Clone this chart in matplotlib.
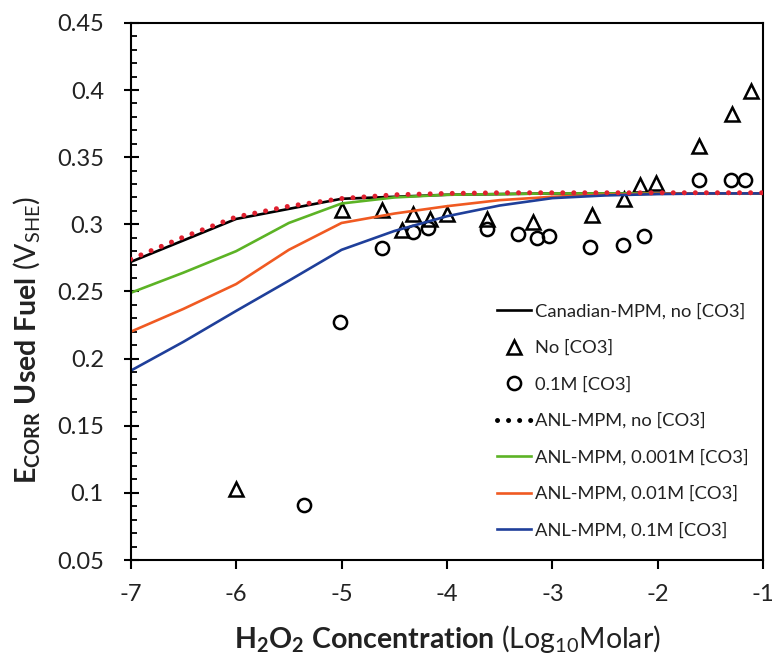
import numpy as np
import matplotlib
matplotlib.use("Agg")
import matplotlib.pyplot as plt
from matplotlib.ticker import MultipleLocator, FuncFormatter

plt.rcParams['font.family'] = ['Lato', 'DejaVu Sans']
plt.rcParams['mathtext.fontset'] = 'custom'
plt.rcParams['mathtext.rm'] = 'Lato'
plt.rcParams['mathtext.it'] = 'Lato:italic'
plt.rcParams['mathtext.bf'] = 'Lato:bold'

# model curves, log10 [H2O2] vs Ecorr (V SHE)
canadian_x = [-7, -6, -5, -4, -3, -2, -1]
canadian_y = [0.272, 0.304, 0.319, 0.322, 0.323, 0.323, 0.323]

anl_x = [-7, -6.5, -6, -5.5, -5, -4.5, -4, -3.5, -3, -2.5, -2, -1.5, -1]
anl_none = [0.274, 0.2905, 0.3055, 0.3135, 0.3192, 0.322, 0.323, 0.3235, 0.3235, 0.3235, 0.3235, 0.3235, 0.3235]
anl_0001 = [0.249, 0.264, 0.280, 0.301, 0.3155, 0.320, 0.322, 0.3225, 0.323, 0.323, 0.323, 0.323, 0.323]
anl_001 = [0.220, 0.237, 0.2555, 0.281, 0.301, 0.308, 0.3135, 0.318, 0.3205, 0.322, 0.3228, 0.323, 0.323]
anl_01 = [0.191, 0.2125, 0.2355, 0.258, 0.281, 0.295, 0.306, 0.314, 0.3195, 0.3215, 0.3225, 0.323, 0.323]

# measurements
tri_x = [-6.0, -5.0, -4.62, -4.43, -4.325, -4.16, -4.0, -3.62, -3.18, -2.625, -2.32, -2.17, -2.02, -1.61, -1.30, -1.12]
tri_y = [0.103, 0.311, 0.311, 0.296, 0.308, 0.304, 0.308, 0.304, 0.302, 0.307, 0.319, 0.329, 0.331, 0.358, 0.382, 0.399]
circ_x = [-5.36, -5.01, -4.62, -4.32, -4.18, -3.62, -3.33, -3.15, -3.03, -2.64, -2.33, -2.13, -1.61, -1.31, -1.17]
circ_y = [0.091, 0.2275, 0.282, 0.2945, 0.297, 0.2963, 0.2925, 0.2896, 0.2913, 0.2833, 0.2846, 0.2913, 0.333, 0.333, 0.333]

fig = plt.figure(figsize=(7.78, 6.54), dpi=100)
ax = fig.add_axes([0.168, 0.1437, 0.813, 0.8213])

lw = 1.9
ax.plot(canadian_x, canadian_y, color='black', lw=lw, label='Canadian-MPM, no [CO3]')
ax.plot(tri_x, tri_y, ls='none', marker='^', ms=10, mfc='none', mec='black', mew=1.8,
        label='No [CO3]')
ax.plot(circ_x, circ_y, ls='none', marker='o', ms=9.5, mfc='none', mec='black', mew=1.8,
        label='0.1M [CO3]')
ax.plot(anl_x, anl_none, color='#e0202f', lw=3.6, ls=(0, (0.01, 2.2)),
        dash_capstyle='round', zorder=3, label='ANL-MPM, no [CO3]')
ax.plot(anl_x, anl_0001, color='#5cb325', lw=lw, label='ANL-MPM, 0.001M [CO3]')
ax.plot(anl_x, anl_001, color='#f05a22', lw=lw, label='ANL-MPM, 0.01M [CO3]')
ax.plot(anl_x, anl_01, color='#1f3f9a', lw=lw, label='ANL-MPM, 0.1M [CO3]')

ax.set_xlim(-7, -1)
ax.set_ylim(0.05, 0.45)
ax.xaxis.set_major_locator(MultipleLocator(1))
ax.yaxis.set_major_locator(MultipleLocator(0.05))
ax.yaxis.set_minor_locator(MultipleLocator(0.01))
ax.yaxis.set_major_formatter(FuncFormatter(lambda v, p: f"{v:g}"))
ax.xaxis.set_major_formatter(FuncFormatter(lambda v, p: f"{v:g}"))

for s in ax.spines.values():
    s.set_linewidth(1.5)
ax.tick_params(axis='x', which='major', direction='out', length=6.5, width=1.5,
               labelsize=17, pad=11, colors='black', labelcolor='#222222')
ax.tick_params(axis='y', which='major', direction='inout', length=10.8, width=1.5,
               labelsize=17, pad=14, labelcolor='#222222')
ax.tick_params(axis='y', which='minor', direction='in', length=4.3, width=1.3)

ax.set_xlabel(r'$\mathbf{H_2O_2\ Concentration}$ (Log$_{10}$Molar)', fontsize=20.5,
              color='#222222')
ax.xaxis.set_label_coords(0.5, -0.118)
ax.set_ylabel(r'$\mathbf{E_{CORR}\ Used\ Fuel}$ (V$_{\mathrm{SHE}}$)', fontsize=20.5,
              color='#222222')
ax.yaxis.set_label_coords(-0.14, 0.41)

leg = ax.legend(loc='upper left', bbox_to_anchor=(0.579, 0.478), frameon=False,
                fontsize=13.2, borderpad=0, borderaxespad=0, handlelength=1.85,
                handletextpad=0.2, labelspacing=1.1)
leg.legend_handles[3].set_color('black')
for t in leg.get_texts():
    t.set_color('#222222')

fig.savefig('out.png', dpi=100)
